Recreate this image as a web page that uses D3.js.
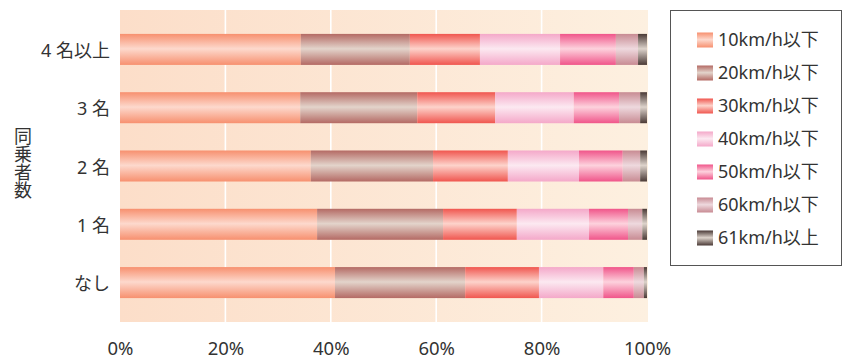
<!DOCTYPE html>
<html>
<head>
<meta charset="utf-8">
<script src="https://cdn.jsdelivr.net/npm/d3@7"></script>
<style>
  html, body { margin: 0; padding: 0; background: #fff; }
  svg { display: block; }
  text { font-family: "Noto Sans", "Noto Sans CJK JP", sans-serif; fill: #333; }
</style>
</head>
<body>
<svg id="chart" width="842" height="361"></svg>
<script>
// Number of fellow passengers (top to bottom)
const categories = ["4 名以上", "3 名", "2 名", "1 名", "なし"];
const seriesNames = ["10km/h以下", "20km/h以下", "30km/h以下", "40km/h以下", "50km/h以下", "60km/h以下", "61km/h以上"];

// Share (%) of each speed band per category
const s10 = [34.3, 34.2, 36.2, 37.4, 40.8];
const s20 = [20.7, 22.2, 23.2, 23.9, 24.7];
const s30 = [13.3, 14.8, 14.2, 14.0, 14.0];
const s40 = [15.2, 14.9, 13.5, 13.7, 12.2];
const s50 = [10.6, 8.6, 8.3, 7.4, 5.8];
const s60 = [4.2, 4.0, 3.3, 2.7, 1.9];
const s61 = [1.7, 1.3, 1.3, 0.9, 0.6];

const tickValues = [0, 20, 40, 60, 80, 100];
const yTitle = "同乗者数";

// Edge / centre colours of each cylinder-like band
const edgeColors = ["#f7906f", "#b46a64", "#f0564f", "#f4a8c9", "#f0558a", "#c88b93", "#4a3a36"];
const midColors  = ["#fdd9cd", "#e3d4cb", "#fdd3cb", "#fce9f1", "#fdd2dd", "#eed9de", "#ddd3cb"];

const seriesValues = [s10, s20, s30, s40, s50, s60, s61];
const rows = categories.map((c, i) => {
  const r = { cat: c };
  seriesNames.forEach((s, j) => { r[s] = seriesValues[j][i]; });
  return r;
});

const svg = d3.select("#chart");
const defs = svg.append("defs");

const plot = { left: 120, right: 647, top: 10, bottom: 322 };

const x = d3.scaleLinear().domain([0, 100]).range([plot.left, plot.right]);
const y = d3.scaleBand().domain(categories).range([plot.top, plot.bottom])
  .paddingInner(0.468).paddingOuter(0.41);

// Plot background: soft horizontal peach gradient
const bg = defs.append("linearGradient").attr("id", "bg").attr("x1", 0).attr("x2", 1).attr("y1", 0).attr("y2", 0);
bg.append("stop").attr("offset", 0).attr("stop-color", "#fcdec9");
bg.append("stop").attr("offset", 1).attr("stop-color", "#fdf0e0");

// Vertical gradients giving each band a rounded look
seriesNames.forEach((s, i) => {
  const g = defs.append("linearGradient").attr("id", "g" + i)
    .attr("x1", 0).attr("x2", 0).attr("y1", 0).attr("y2", 1);
  g.append("stop").attr("offset", 0).attr("stop-color", edgeColors[i]);
  g.append("stop").attr("offset", 0.48).attr("stop-color", midColors[i]);
  g.append("stop").attr("offset", 1).attr("stop-color", edgeColors[i]);
});

svg.append("rect")
  .attr("x", x(0)).attr("y", plot.top)
  .attr("width", x(100) - x(0) + 1).attr("height", plot.bottom - plot.top)
  .attr("fill", "url(#bg)");

// White gridlines
svg.append("g").selectAll("line")
  .data(tickValues.filter(v => v > 0 && v < 100))
  .join("line")
  .attr("x1", d => x(d)).attr("x2", d => x(d))
  .attr("y1", plot.top).attr("y2", plot.bottom)
  .attr("stroke", "#fff").attr("stroke-width", 1.6);

// Stacked bars
const stack = d3.stack().keys(seriesNames)(rows);
svg.append("g").selectAll("g")
  .data(stack)
  .join("g")
  .attr("fill", (d, i) => "url(#g" + i + ")")
  .selectAll("rect")
  .data(d => d)
  .join("rect")
  .attr("x", d => x(d[0]))
  .attr("y", d => y(d.data.cat))
  .attr("width", d => x(d[1]) - x(d[0]))
  .attr("height", y.bandwidth());

// X axis labels
const xAxis = d3.axisBottom(x).tickValues(tickValues).tickSize(0).tickPadding(0)
  .tickFormat(d => d + "%");
const gx = svg.append("g").attr("transform", "translate(0,342)").call(xAxis);
gx.select(".domain").remove();
gx.selectAll("text").attr("font-size", 18.5).attr("font-family", "'Noto Sans', sans-serif")
  .attr("fill", "#333").attr("dy", "0.72em");

// Y axis labels
const yAxis = d3.axisLeft(y).tickSize(0).tickPadding(0);
const gy = svg.append("g").attr("transform", "translate(110,2)").call(yAxis);
gy.select(".domain").remove();
gy.selectAll("text").attr("font-size", 18).attr("font-family", "'Noto Sans CJK JP', sans-serif")
  .attr("fill", "#333");

// Vertical axis title
svg.append("text")
  .attr("x", 22)
  .attr("y", 163)
  .attr("text-anchor", "middle")
  .style("writing-mode", "vertical-rl")
  .attr("font-size", 18)
  .attr("font-family", "'Noto Sans CJK JP', sans-serif")
  .text(yTitle);

// Legend
const legend = svg.append("g");
legend.append("rect")
  .attr("x", 670.5).attr("y", 10.5).attr("width", 171).attr("height", 255)
  .attr("fill", "#fff").attr("stroke", "#555").attr("stroke-width", 1);

const item = legend.selectAll("g.item")
  .data(seriesNames)
  .join("g").attr("class", "item")
  .attr("transform", (d, i) => `translate(697,${40 + i * 33})`);
item.append("rect")
  .attr("x", 0).attr("y", -7.5).attr("width", 16).attr("height", 15)
  .attr("fill", (d, i) => "url(#g" + i + ")");
item.append("text")
  .attr("x", 21).attr("y", 0).attr("dy", "0.36em")
  .attr("font-size", 18)
  .text(d => d);
</script>
</body>
</html>
